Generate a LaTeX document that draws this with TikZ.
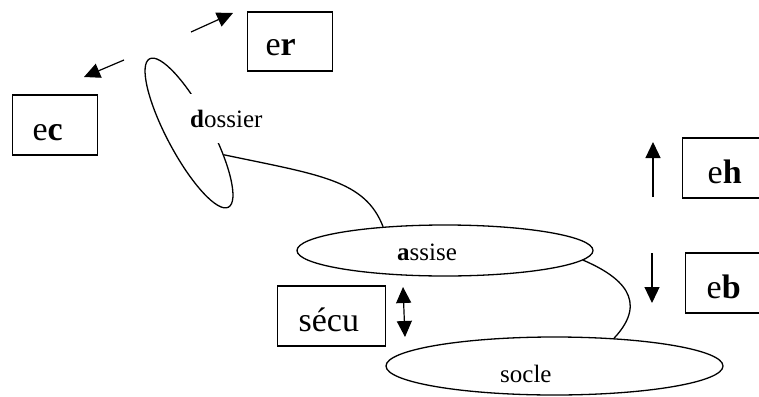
\documentclass[tikz,border=0pt]{standalone}
\usepackage{fontspec}
\setmainfont{Liberation Serif}
\usetikzlibrary{shapes.geometric,arrows.meta}
\begin{document}
\begin{tikzpicture}[x=1pt,y=-1pt,
 bx/.style={draw, line width=1.3pt, inner ysep=0pt, anchor=base west, align=left, font=\fontsize{34}{40}\selectfont},
 ell/.style={draw, ellipse, inner sep=0pt, line width=1.3pt},
 lbl/.style={anchor=base west, inner sep=0pt, font=\fontsize{25}{30}\selectfont},
 arr/.style={-{Triangle[length=16pt,width=15pt]}, line width=1.2pt},
 darr/.style={{Triangle[length=16pt,width=15pt]}-{Triangle[length=16pt,width=15pt]}, line width=1.2pt},
 link/.style={line width=1.3pt}]
\useasboundingbox (0,0) rectangle (759,396);

% boxes
\node[bx, inner xsep=18pt, text width=49pt, text height=44pt, text depth=15pt] (er) at (247,56) {e\textbf{r}};
\node[bx, inner xsep=20pt, text width=45pt, text height=45pt, text depth=15pt] (ec) at (12,140) {e\textbf{c}};
\node[bx, inner xsep=25pt, text width=40pt, text height=45pt, text depth=15pt] (eh) at (682,183) {e\textbf{h}};
\node[bx, inner xsep=21pt, text width=48pt, text height=45pt, text depth=15pt] (eb) at (685,298) {e\textbf{b}};
\node[bx, inner xsep=21pt, text width=66pt, text height=45pt, text depth=15pt] (secu) at (277,331) {sécu};

% ellipses
\node[ell, minimum width=168pt, minimum height=44pt, rotate=-62] (dos) at (189,133) {};
\node[ell, minimum width=296pt, minimum height=51pt] (as) at (445,250.5) {};
\node[ell, minimum width=337pt, minimum height=58pt] (so) at (554.5,366) {};

% labels
\node[lbl, fill=white, inner xsep=4pt, inner ysep=16pt, text height=17pt, text depth=0pt] (dt) at (186,127) {\textbf{d}ossier};
\node[lbl] (at) at (397,260) {\textbf{a}ssise};
\node[lbl] (st) at (500,382) {socle};

% connectors
\draw[link] (dos.30) .. controls (320,175) and (365,180) .. (as.159);
\draw[link] (as.-4) .. controls (620,276) and (650,300) .. (so.25);

% arrows
\coordinate (ecA) at (124,60);
\coordinate (ecB) at (84,77);
\coordinate (erA) at (191,32);
\coordinate (erB) at (233,13);
\coordinate (ehA) at (653,197);
\coordinate (ehB) at (653,142);
\coordinate (ebA) at (652,253);
\coordinate (ebB) at (652,303);
\coordinate (sA) at (403,287);
\coordinate (sB) at (405,337);
\draw[arr] (ecA) -- (ecB);
\draw[arr] (erA) -- (erB);
\draw[arr] (ehA) -- (ehB);
\draw[arr] (ebA) -- (ebB);
\draw[darr] (sA) -- (sB);
\end{tikzpicture}
\end{document}
